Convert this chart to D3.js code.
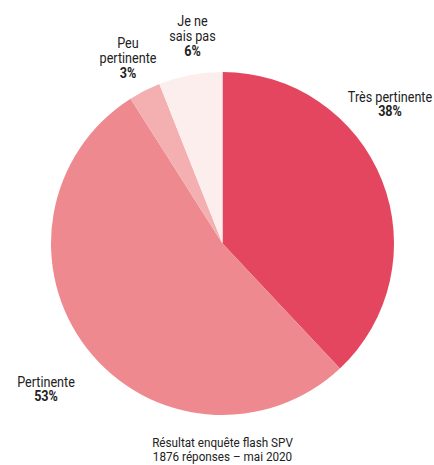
<!DOCTYPE html>
<html lang="fr">
<head>
<meta charset="UTF-8">
<title>Pertinence</title>
<script src="https://cdn.jsdelivr.net/npm/d3@7"></script>
<style>
  body { margin: 0; background: #fff; }
  text { font-family: "Roboto", "Liberation Sans", sans-serif; fill: #222; }
</style>
</head>
<body>
<script>
var categories = ['Très pertinente', 'Pertinente', 'Peu pertinente', 'Je ne sais pas'];
var values = [38, 53, 3, 6];
var colors = ['#e4455f', '#ee8a8f', '#f4b0b1', '#fdeeee'];
// label lines and where each label block sits (centre x, first baseline)
var labelLines = [['Très pertinente'], ['Pertinente'], ['Peu', 'pertinente'], ['Je ne', 'sais pas']];
var labelPos = [[390, 102], [46, 387], [128, 48], [192.5, 26]];
var caption = ['Résultat enquête flash SPV', '1876 réponses – mai 2020'];

var w = 434, h = 465;
var cx = 222.5, cy = 243.5, r = 171.5;
var squeeze = 0.9; // narrow the font a little, the original is a condensed face

var svg = d3.select('body').append('svg')
  .attr('width', w)
  .attr('height', h);

var pie = d3.pie().sort(null).value(d => d);
var arc = d3.arc().innerRadius(0).outerRadius(r);

var g = svg.append('g').attr('transform', 'translate(' + cx + ',' + cy + ')');

g.selectAll('path')
  .data(pie(values))
  .enter()
  .append('path')
  .attr('d', arc)
  .attr('fill', (d, i) => colors[i]);

var lh = 15.5;
var labels = svg.selectAll('g.lbl')
  .data(categories)
  .enter()
  .append('g')
  .attr('class', 'lbl')
  .attr('transform', (d, i) => 'translate(' + labelPos[i][0] + ',' + labelPos[i][1] + ') scale(' + squeeze + ',1)');

labels.each(function (d, i) {
  var t = d3.select(this).append('text')
    .attr('text-anchor', 'middle')
    .attr('font-size', '14px');
  var lines = labelLines[i];
  lines.forEach(function (s, j) {
    t.append('tspan')
      .attr('x', 0)
      .attr('y', j * lh)
      .text(s);
  });
  t.append('tspan')
    .attr('x', 0)
    .attr('y', (lines.length - 1) * lh + 14.5)
    .attr('font-weight', 'bold')
    .text(values[i] + '%');
});

// caption, one text per line
svg.selectAll('g.cap')
  .data(caption)
  .enter()
  .append('g')
  .attr('class', 'cap')
  .attr('transform', (d, i) => 'translate(222.5,' + (447 + i * 14) + ') scale(' + squeeze + ',1)')
  .append('text')
  .attr('text-anchor', 'middle')
  .attr('font-size', '13px')
  .text(d => d);
</script>
</body>
</html>
